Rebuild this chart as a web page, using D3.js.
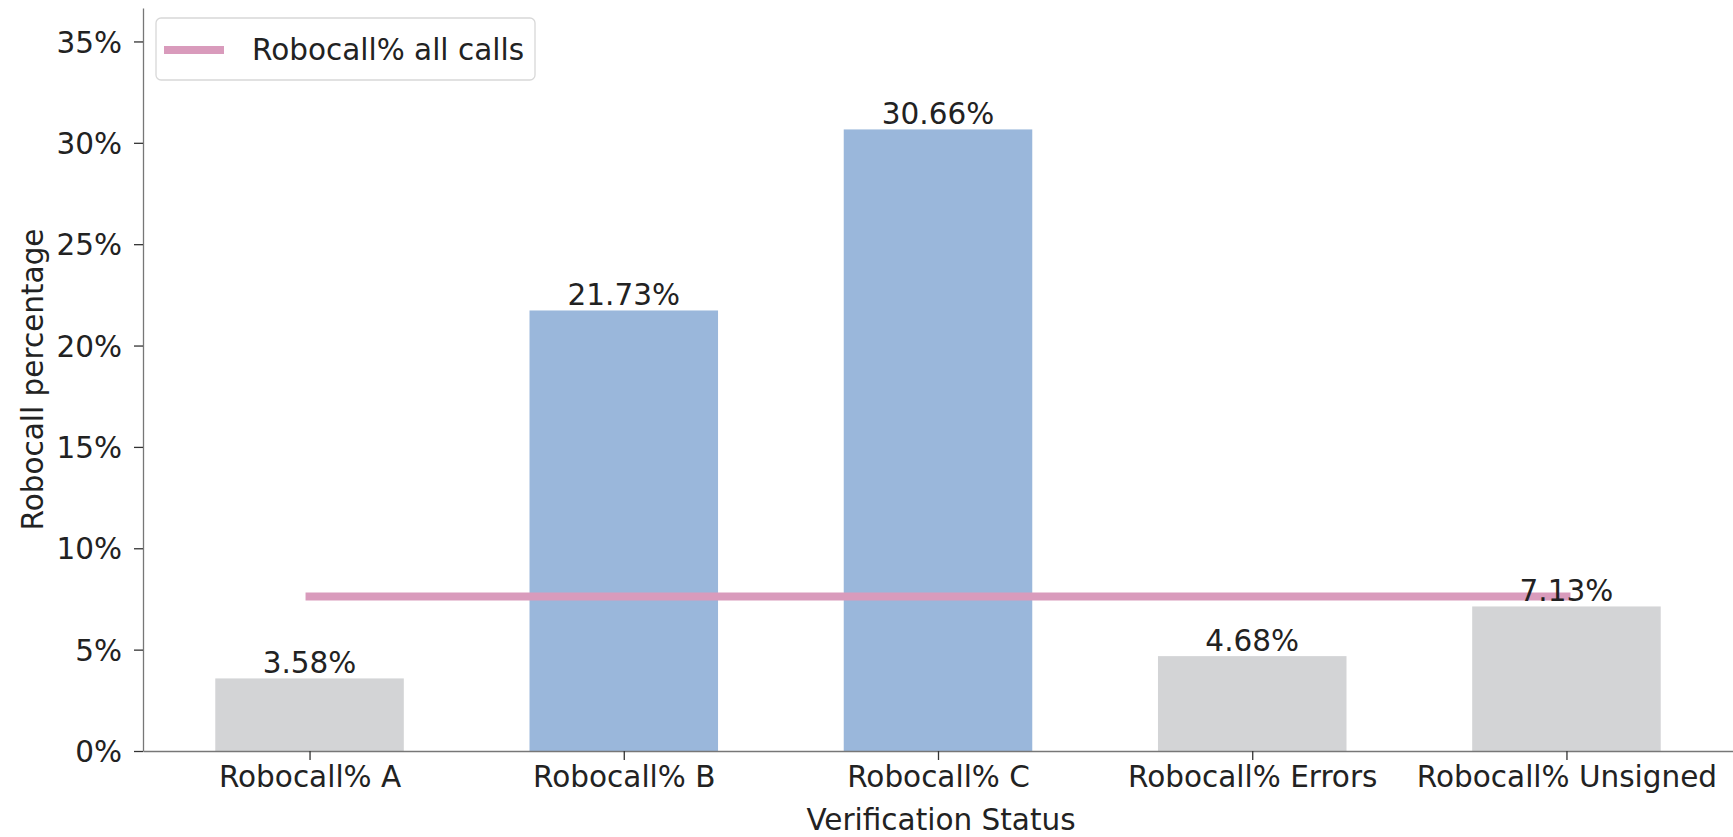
<!DOCTYPE html>
<html>
<head>
<meta charset="utf-8">
<script src="https://cdn.jsdelivr.net/npm/d3@7"></script>
<style>
  body { margin: 0; background: #fff; }
  svg text { font-family: "DejaVu Sans", sans-serif; fill: #222; }
</style>
</head>
<body>
<div id="plot"></div>
<script>
// data
var categories = ["Robocall% A", "Robocall% B", "Robocall% C", "Robocall% Errors", "Robocall% Unsigned"];
var values = [3.58, 21.73, 30.66, 4.68, 7.13];
var barColors = ["#d3d4d6", "#9ab7db", "#9ab7db", "#d3d4d6", "#d3d4d6"];
var allCallsPct = 7.62;
var yTicks = [0, 5, 10, 15, 20, 25, 30, 35];

var W = 1733, H = 837;
var margin = { left: 143, right: 1733, top: 8, bottom: 751 };
var fs = "29.5px";

var svg = d3.select("#plot").append("svg")
  .attr("width", W)
  .attr("height", H);

// matplotlib-like x limits: -0.53 .. n-1+0.53
var n = categories.length;
var xScale = d3.scaleLinear()
  .domain([-0.53, n - 1 + 0.53])
  .range([margin.left, margin.right]);

var yScale = d3.scaleLinear()
  .domain([0, 36.65])
  .range([margin.bottom, margin.top]);

var barW = xScale(0.6) - xScale(0);

// bars
svg.selectAll(".bar")
  .data(values)
  .enter().append("rect")
  .attr("class", "bar")
  .attr("x", function (d, i) { return xScale(i) - barW / 2; })
  .attr("y", function (d) { return yScale(d); })
  .attr("width", barW)
  .attr("height", function (d) { return yScale(0) - yScale(d); })
  .attr("fill", function (d, i) { return barColors[i]; });

// reference line
svg.append("line")
  .attr("x1", xScale(0))
  .attr("x2", xScale(n - 1))
  .attr("y1", yScale(allCallsPct))
  .attr("y2", yScale(allCallsPct))
  .attr("stroke", "#d99bbc")
  .attr("stroke-width", 8)
  .attr("stroke-linecap", "square");

// bar labels
svg.selectAll(".lbl")
  .data(values)
  .enter().append("text")
  .attr("class", "lbl")
  .attr("x", function (d, i) { return xScale(i); })
  .attr("y", function (d) { return yScale(d) - 5; })
  .attr("text-anchor", "middle")
  .style("font-size", fs)
  .text(function (d) { return d.toFixed(2) + "%"; });

// axes
var yAxis = d3.axisLeft(yScale)
  .tickValues(yTicks)
  .tickSize(9)
  .tickSizeOuter(0)
  .tickPadding(12)
  .tickFormat(function (d) { return d + "%"; });

var xAxis = d3.axisBottom(xScale)
  .tickValues(d3.range(n))
  .tickSize(9)
  .tickSizeOuter(0)
  .tickPadding(6)
  .tickFormat(function (d) { return categories[d]; });

var gy = svg.append("g")
  .attr("transform", "translate(" + margin.left + ",0)")
  .call(yAxis);

var gx = svg.append("g")
  .attr("transform", "translate(0," + margin.bottom + ")")
  .call(xAxis);

[gx, gy].forEach(function (g) {
  g.select(".domain").attr("stroke", "#777").attr("stroke-width", 1.3);
  g.selectAll(".tick line").attr("stroke", "#333").attr("stroke-width", 1.3);
  g.selectAll(".tick text").style("font-size", fs).attr("fill", "#222")
    .style("font-family", "DejaVu Sans, sans-serif");
});
gy.selectAll(".tick text").attr("dy", "0.36em");

// axis titles
svg.append("text")
  .attr("x", (margin.left + margin.right) / 2 + 3)
  .attr("y", 830)
  .attr("text-anchor", "middle")
  .style("font-size", fs)
  .text("Verification Status");

svg.append("text")
  .attr("transform", "translate(43," + ((margin.top + margin.bottom) / 2) + ") rotate(-90)")
  .attr("text-anchor", "middle")
  .style("font-size", fs)
  .text("Robocall percentage");

// legend
var lg = svg.append("g").attr("transform", "translate(156,18)");
lg.append("rect")
  .attr("width", 379)
  .attr("height", 62)
  .attr("rx", 5)
  .attr("fill", "#fff")
  .attr("fill-opacity", 0.85)
  .attr("stroke", "#d8d8d8")
  .attr("stroke-width", 1.3);
lg.append("line")
  .attr("x1", 12).attr("x2", 64)
  .attr("y1", 32).attr("y2", 32)
  .attr("stroke", "#d99bbc")
  .attr("stroke-width", 8)
  .attr("stroke-linecap", "square");
lg.append("text")
  .attr("x", 96)
  .attr("y", 42)
  .style("font-size", fs)
  .text("Robocall% all calls");
</script>
</body>
</html>
